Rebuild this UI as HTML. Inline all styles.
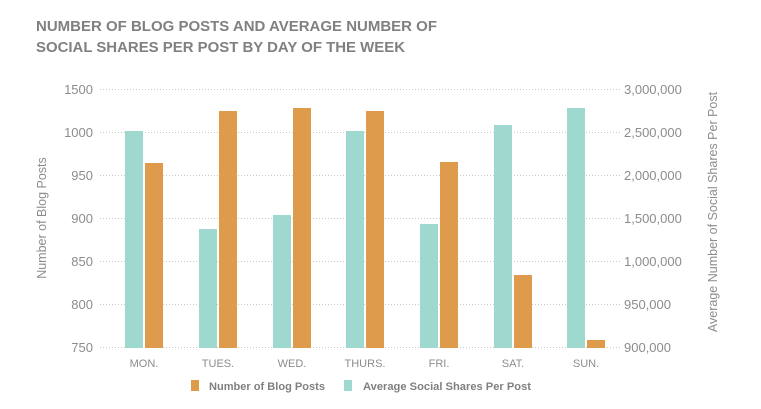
<!DOCTYPE html>
<html><head><meta charset="utf-8"><style>
body{margin:0;background:#fff;}
svg{display:block;font-family:"Liberation Sans",sans-serif;}
</style></head><body>
<svg width="761" height="409" viewBox="0 0 761 409">
<g font-weight="bold" fill="#808080" font-size="14.5">
<text x="36" y="31" textLength="401" lengthAdjust="spacingAndGlyphs">NUMBER OF BLOG POSTS AND AVERAGE NUMBER OF</text>
<text x="36" y="52" textLength="369" lengthAdjust="spacingAndGlyphs">SOCIAL SHARES PER POST BY DAY OF THE WEEK</text>
</g>
<g stroke="#c8c8c8" stroke-width="1" stroke-dasharray="1,2">
<line x1="100" x2="620" y1="89.5" y2="89.5"/>
<line x1="100" x2="620" y1="132.5" y2="132.5"/>
<line x1="100" x2="620" y1="175.5" y2="175.5"/>
<line x1="100" x2="620" y1="218.5" y2="218.5"/>
<line x1="100" x2="620" y1="261.5" y2="261.5"/>
<line x1="100" x2="620" y1="304.5" y2="304.5"/>
<line x1="100" x2="620" y1="347.5" y2="347.5"/>
</g>
<g font-size="13" fill="#8c8c8c" text-anchor="end">
<text x="93" y="94">1500</text><text x="93" y="137">1000</text><text x="93" y="180">950</text><text x="93" y="223">900</text><text x="93" y="266">850</text><text x="93" y="309">800</text><text x="93" y="352">750</text>
</g>
<g font-size="13" fill="#8c8c8c">
<text x="624" y="94">3,000,000</text><text x="624" y="137">2,500,000</text><text x="624" y="180">2,000,000</text><text x="624" y="223">1,500,000</text><text x="624" y="266">1,000,000</text><text x="624" y="309">950,000</text><text x="624" y="352">900,000</text>
</g>
<text transform="translate(46,218) rotate(-90)" text-anchor="middle" font-size="12.5" fill="#8c8c8c">Number of Blog Posts</text>
<text transform="translate(717,212) rotate(-90)" text-anchor="middle" font-size="12.5" fill="#8c8c8c">Average Number of Social Shares Per Post</text>
<g fill="#9fd8ce">
<rect x="125" y="131" width="18" height="217"/>
<rect x="199" y="229" width="18" height="119"/>
<rect x="273" y="215" width="18" height="133"/>
<rect x="346" y="131" width="18" height="217"/>
<rect x="420" y="224" width="18" height="124"/>
<rect x="494" y="125" width="18" height="223"/>
<rect x="567" y="108" width="18" height="240"/>
</g>
<g fill="#df9b4c">
<rect x="145" y="163" width="18" height="185"/>
<rect x="219" y="111" width="18" height="237"/>
<rect x="293" y="108" width="18" height="240"/>
<rect x="366" y="111" width="18" height="237"/>
<rect x="440" y="162" width="18" height="186"/>
<rect x="514" y="275" width="18" height="73"/>
<rect x="587" y="340" width="18" height="8"/>
</g>
<g font-size="11" fill="#8c8c8c" text-anchor="middle">
<text x="144" y="367">MON.</text><text x="218" y="367">TUES.</text><text x="292" y="367">WED.</text><text x="365" y="367">THURS.</text><text x="439" y="367">FRI.</text><text x="513" y="367">SAT.</text><text x="586" y="367">SUN.</text>
</g>
<rect x="191" y="380" width="8" height="11" fill="#df9b4c"/>
<rect x="344" y="380" width="8" height="11" fill="#9fd8ce"/>
<g font-size="11" font-weight="bold" fill="#808080">
<text x="209" y="390" textLength="116" lengthAdjust="spacingAndGlyphs">Number of Blog Posts</text>
<text x="363" y="390" textLength="168" lengthAdjust="spacingAndGlyphs">Average Social Shares Per Post</text>
</g>
</svg>
</body></html>
